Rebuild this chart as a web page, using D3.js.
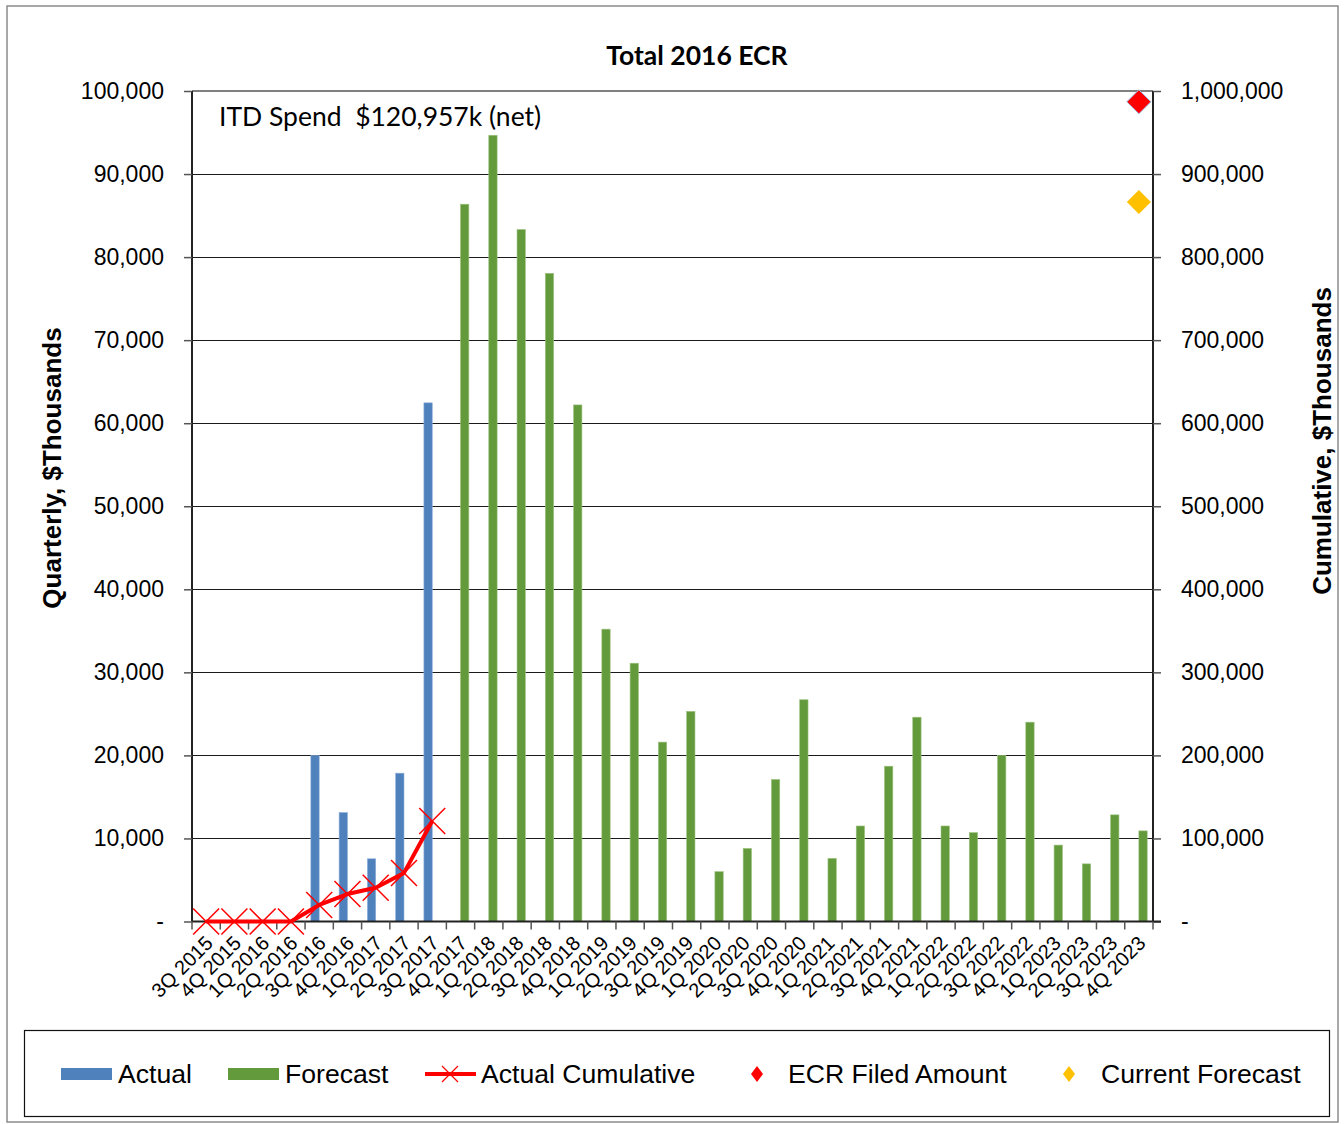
<!DOCTYPE html>
<html>
<head>
<meta charset="utf-8">
<script src="https://cdn.jsdelivr.net/npm/d3@7"></script>
<style>
  html, body { margin: 0; padding: 0; background: #fff; }
  svg { display: block; }
</style>
</head>
<body>
<svg id="chart" width="1344" height="1124"></svg>
<script>
// ---- Data ----
const categories = ["3Q 2015","4Q 2015","1Q 2016","2Q 2016","3Q 2016","4Q 2016","1Q 2017","2Q 2017","3Q 2017",
  "4Q 2017","1Q 2018","2Q 2018","3Q 2018","4Q 2018","1Q 2019","2Q 2019","3Q 2019","4Q 2019",
  "1Q 2020","2Q 2020","3Q 2020","4Q 2020","1Q 2021","2Q 2021","3Q 2021","4Q 2021",
  "1Q 2022","2Q 2022","3Q 2022","4Q 2022","1Q 2023","2Q 2023","3Q 2023","4Q 2023"];
const actual = [0,0,0,0,19980,13120,7550,17860,62450,
  null,null,null,null,null,null,null,null,null,null,null,null,null,null,null,null,null,null,null,null,null,null,null,null,null];
const forecast = [null,null,null,null,null,null,null,null,null,
  86370,94670,83320,78050,62200,35200,31100,21600,25300,
  6000,8800,17100,26700,7600,11500,18700,24600,
  11500,10700,20000,24000,9200,6940,12840,10910];
const actualCumulative = [0,0,0,0,19980,33100,40650,58510,120957];
const ecrFiledAmount = 987000;
const currentForecast = 866400;
const leftTicks = [0,10000,20000,30000,40000,50000,60000,70000,80000,90000,100000];
const rightTicks = [0,100000,200000,300000,400000,500000,600000,700000,800000,900000,1000000];

// ---- Layout ----
const L = 192, R = 1153, T = 91, B = 921.5;
const svg = d3.select("#chart");
const ARIAL = "'Liberation Sans', Arial, sans-serif";
const CAL = "Lato, 'Open Sans', sans-serif";

const x = d3.scaleBand().domain(categories).range([L, R]).paddingInner(0).paddingOuter(0);
const yL = d3.scaleLinear().domain([0, 100000]).range([B, T]);
const yR = d3.scaleLinear().domain([0, 1000000]).range([B, T]);
const bw = x.bandwidth() * 0.295;
const cx = c => x(c) + x.bandwidth() / 2;

// outer border
svg.append("rect").attr("x", 7).attr("y", 6).attr("width", 1331).attr("height", 1116)
  .attr("fill", "none").attr("stroke", "#8c8c8c").attr("stroke-width", 1.5);

// gridlines
svg.append("g").selectAll("line").data(leftTicks.filter(d => d > 0 && d < 100000)).join("line")
  .attr("x1", L).attr("x2", R).attr("y1", d => Math.round(yL(d)) + 0.5).attr("y2", d => Math.round(yL(d)) + 0.5)
  .attr("stroke", "#1a1a1a").attr("stroke-width", 1);
// top line gray
svg.append("line").attr("x1", L).attr("x2", R).attr("y1", T).attr("y2", T)
  .attr("stroke", "#808080").attr("stroke-width", 2);

// bars
const fmt = d3.format(",");
svg.append("g").selectAll("rect").data(categories.map((c, i) => ({c, v: actual[i]})).filter(d => d.v))
  .join("rect")
  .attr("x", d => cx(d.c) - bw).attr("width", bw)
  .attr("y", d => yL(d.v)).attr("height", d => B - yL(d.v))
  .attr("fill", "#4f81bd").attr("stroke", "#8eb0da").attr("stroke-width", 0.6);
svg.append("g").selectAll("rect").data(categories.map((c, i) => ({c, v: forecast[i]})).filter(d => d.v))
  .join("rect")
  .attr("x", d => cx(d.c)).attr("width", bw)
  .attr("y", d => yL(d.v)).attr("height", d => B - yL(d.v))
  .attr("fill", "#639a3c").attr("stroke", "#9cc27f").attr("stroke-width", 0.6);

// left axis
const gL = svg.append("g").attr("transform", `translate(${L},0)`)
  .call(d3.axisLeft(yL).tickValues(leftTicks).tickSize(8).tickPadding(20)
    .tickFormat(d => d === 0 ? "-" : fmt(d)));
gL.select(".domain").attr("stroke", "#222").attr("stroke-width", 2).attr("d", `M0,${B}V${T}`);
gL.selectAll(".tick line").attr("stroke", "#555").attr("stroke-width", 1.5);
gL.selectAll(".tick text").attr("font-family", ARIAL).attr("font-size", 23).attr("fill", "#000");

// right axis
const gR = svg.append("g").attr("transform", `translate(${R},0)`)
  .call(d3.axisRight(yR).tickValues(rightTicks).tickSize(8).tickPadding(20)
    .tickFormat(d => d === 0 ? "-" : fmt(d)));
gR.select(".domain").attr("stroke", "#222").attr("stroke-width", 2).attr("d", `M0,${B}V${T}`);
gR.selectAll(".tick line").attr("stroke", "#555").attr("stroke-width", 1.5);
gR.selectAll(".tick text").attr("font-family", ARIAL).attr("font-size", 23).attr("fill", "#000");

// bottom axis
const gB = svg.append("g").attr("transform", `translate(0,${B})`);
gB.append("line").attr("x1", L).attr("x2", R + 8).attr("y1", 0).attr("y2", 0)
  .attr("stroke", "#222").attr("stroke-width", 2);
const boundaries = categories.map(c => x(c)).concat([R]);
gB.selectAll("line.tk").data(boundaries).join("line").attr("class", "tk")
  .attr("x1", d => d).attr("x2", d => d).attr("y1", 0).attr("y2", 8)
  .attr("stroke", "#555").attr("stroke-width", 1.5);
gB.selectAll("text").data(categories).join("text")
  .attr("transform", d => `translate(${cx(d) + 3},${18}) rotate(-45)`)
  .attr("text-anchor", "end").attr("dy", "0.35em")
  .attr("font-family", ARIAL).attr("font-size", 20).attr("fill", "#000")
  .text(d => d);

// cumulative line
const cumData = actualCumulative.map((v, i) => ({c: categories[i], v}));
svg.append("path").datum(cumData)
  .attr("fill", "none").attr("stroke", "#ff0000").attr("stroke-width", 4).attr("stroke-linejoin", "round")
  .attr("d", d3.line().x(d => cx(d.c)).y(d => yR(d.v)));
const xs = 13;
svg.append("g").selectAll("path").data(cumData).join("path")
  .attr("d", d => { const px = cx(d.c), py = yR(d.v);
    return `M${px - xs},${py - xs}L${px + xs},${py + xs}M${px - xs},${py + xs}L${px + xs},${py - xs}`; })
  .attr("stroke", "#ff0000").attr("stroke-width", 1.5).attr("fill", "none");

// diamonds
const lastC = categories[categories.length - 1];
const diamond = (px, py, r) => `M${px},${py - r}L${px + r},${py}L${px},${py + r}L${px - r},${py}Z`;
svg.append("path").attr("d", diamond(cx(lastC), yR(ecrFiledAmount), 12))
  .attr("fill", "#ff0000").attr("stroke", "#9db9e0").attr("stroke-width", 1);
svg.append("path").attr("d", diamond(cx(lastC), yR(currentForecast), 12))
  .attr("fill", "#ffc000");

// title & annotations
svg.append("text").attr("x", 697).attr("y", 65).attr("text-anchor", "middle")
  .attr("font-family", CAL).attr("font-weight", "bold").attr("font-size", 26.5).text("Total 2016 ECR");
svg.append("text").attr("x", 219).attr("y", 126).attr("xml:space", "preserve")
  .attr("font-family", CAL).attr("font-size", 26.5).text("ITD Spend  $120,957k (net)");
svg.append("text").attr("transform", "translate(61,468) rotate(-90)").attr("text-anchor", "middle")
  .attr("font-family", ARIAL).attr("font-weight", "bold").attr("font-size", 26).text("Quarterly, $Thousands");
svg.append("text").attr("transform", "translate(1331,441) rotate(-90)").attr("text-anchor", "middle")
  .attr("font-family", ARIAL).attr("font-weight", "bold").attr("font-size", 26).text("Cumulative, $Thousands");

// legend
const lg = svg.append("g");
lg.append("rect").attr("x", 24.5).attr("y", 1030.5).attr("width", 1305).attr("height", 86)
  .attr("fill", "#fff").attr("stroke", "#111").attr("stroke-width", 1.2);
const ly = 1074;
const items = [
  {type: "bar", color: "#4f81bd", x: 61, tx: 118, label: "Actual"},
  {type: "bar", color: "#639a3c", x: 228, tx: 285, label: "Forecast"},
  {type: "line", color: "#ff0000", x: 425, tx: 481, label: "Actual Cumulative"},
  {type: "dia", color: "#ff0000", x: 757, tx: 788, label: "ECR Filed Amount"},
  {type: "dia", color: "#ffc000", x: 1069, tx: 1101, label: "Current Forecast"}
];
items.forEach(it => {
  if (it.type === "bar") {
    lg.append("rect").attr("x", it.x).attr("y", ly - 6).attr("width", 51).attr("height", 12).attr("fill", it.color);
  } else if (it.type === "line") {
    lg.append("line").attr("x1", it.x).attr("x2", it.x + 51).attr("y1", ly).attr("y2", ly)
      .attr("stroke", it.color).attr("stroke-width", 4);
    lg.append("path").attr("d", `M${it.x + 17},${ly - 8}L${it.x + 33},${ly + 8}M${it.x + 17},${ly + 8}L${it.x + 33},${ly - 8}`)
      .attr("stroke", it.color).attr("stroke-width", 1.2);
  } else {
    lg.append("path").attr("d", `M${it.x},${ly - 8}L${it.x + 6},${ly}L${it.x},${ly + 8}L${it.x - 6},${ly}Z`)
      .attr("fill", it.color);
  }
  lg.append("text").attr("x", it.tx).attr("y", ly).attr("dy", "0.35em")
    .attr("font-family", ARIAL).attr("font-size", 26.6).attr("fill", "#000").text(it.label);
});
</script>
</body>
</html>
